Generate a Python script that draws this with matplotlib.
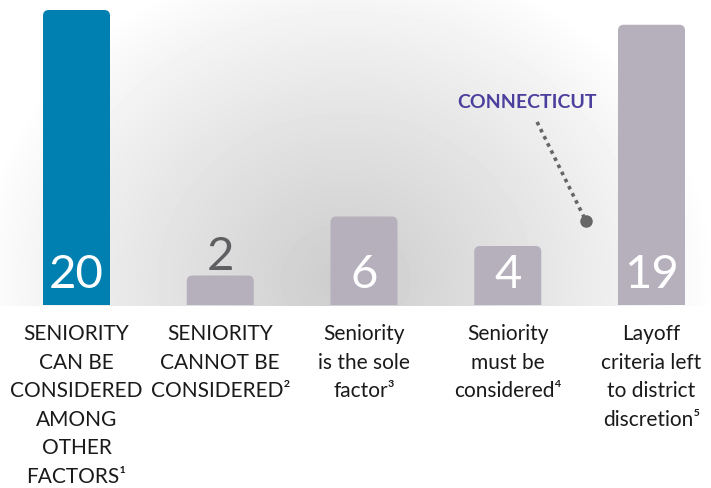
import numpy as np
import matplotlib.pyplot as plt
from matplotlib.patches import FancyBboxPatch

categories = [
    "SENIORITY\nCAN BE\nCONSIDERED\nAMONG\nOTHER\nFACTORS\u00b9",
    "SENIORITY\nCANNOT BE\nCONSIDERED\u00b2",
    "Seniority\nis the sole\nfactor\u00b3",
    "Seniority\nmust be\nconsidered\u2074",
    "Layoff\ncriteria left\nto district\ndiscretion\u2075",
]
values = [20, 2, 6, 4, 19]
bar_colors = ["#0080b0", "#b6b0bd", "#b6b0bd", "#b6b0bd", "#b6b0bd"]
highlight = "CONNECTICUT"

FONT = ["Lato", "DejaVu Sans"]
W, H = 711, 488

fig = plt.figure(figsize=(W / 100, H / 100), dpi=100)

# soft radial grey backdrop behind the bars
bg = fig.add_axes([0, 0, 1, 1])
px, py = np.meshgrid(np.arange(W), np.arange(H))
t = np.sqrt(((px - 345) / 370.0) ** 2 + ((py - 280) / 330.0) ** 2)
shade = 1 - 0.2 * np.clip(1 - t, 0, 1) ** 0.9
shade[py > 305] = 1.0
bg.imshow(shade, cmap="gray", vmin=0, vmax=1, extent=[0, W, H, 0], aspect="auto")
bg.set_xlim(0, W)
bg.set_ylim(H, 0)
bg.axis("off")

ax = fig.add_axes([0, (H - 305) / H, 1, 305 / H])
ax.patch.set_alpha(0)
unit = 14.75
step = 143.75
ax.set_xlim(-76.5 / step, (W - 76.5) / step)
ax.set_ylim(0, 305 / unit)
ax.axis("off")

bw = 67 / step
for i, (v, c) in enumerate(zip(values, bar_colors)):
    p = FancyBboxPatch((i - bw / 2, -1), bw, v + 1,
                       boxstyle="round,pad=0,rounding_size=0.04",
                       mutation_aspect=step / unit,
                       fc=c, ec="none")
    ax.add_patch(p)
    if v >= 4:
        ax.text(i, 1.15, str(v), ha="center", va="baseline", fontsize=34,
                color="white", family=FONT)
    else:
        ax.text(i, v + 0.35, str(v), ha="center", va="baseline", fontsize=34,
                color="#5f5f62", family=FONT)

for i, lab in enumerate(categories):
    ax.text(i, -1.3, lab, ha="center", va="top", fontsize=15, color="#1a1a1a",
            family=FONT, linespacing=1.53, clip_on=False)

# Connecticut callout
ax.text(3.134, 13.76, highlight, ha="center", va="center", fontsize=14,
        fontweight="bold", color="#4b3f9e", family=FONT)
ax.plot([3.204, 3.544], [12.41, 5.69], ls=(0, (1, 1.2)), lw=2.6, color="#666666")
ax.plot([3.544], [5.69], "o", ms=8, color="#666666")

fig.savefig("out.png", dpi=100)
